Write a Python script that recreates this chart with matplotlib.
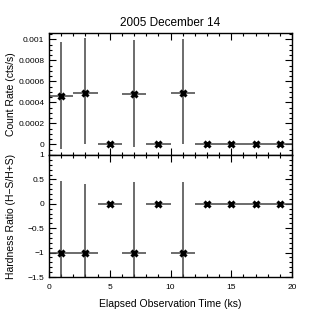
import matplotlib
matplotlib.use('Agg')
from matplotlib import pyplot as plt
from matplotlib.ticker import MultipleLocator, FuncFormatter

plt.rcParams['font.family'] = ['Liberation Sans', 'DejaVu Sans']
plt.rcParams['axes.unicode_minus'] = True

time = [1, 3, 5, 7, 9, 11, 13, 15, 17, 19]
time_err = [1, 1, 1, 1, 1, 1, 1, 1, 1, 1]

rate = [0.00046, 0.00049, 0, 0.00048, 0, 0.00049, 0, 0, 0, 0]
rate_lo = [0.00050, 0.00049, 0, 0.00050, 0, 0.00049, 0, 0, 0, 0]
rate_hi = [0.00051, 0.00052, 0, 0.00051, 0, 0.00051, 0, 0, 0, 0]

hr = [-1, -1, 0, -1, 0, -1, 0, 0, 0, 0]
hr_lo = [1.0, 1.0, 0, 1.0, 0, 1.0, 0, 0, 0, 0]
hr_hi = [1.47, 1.41, 0, 1.44, 0, 1.44, 0, 0, 0, 0]

fig = plt.figure(figsize=(3.26, 3.26), dpi=100)
ax1 = fig.add_axes([49 / 326, 1 - 155 / 326, 243 / 326, 122 / 326])
ax2 = fig.add_axes([49 / 326, 1 - 277 / 326, 243 / 326, 122 / 326], sharex=ax1)

err_style = dict(fmt='none', ecolor='#444444', elinewidth=1.1, capsize=0)
mk_style = dict(marker='x', color='black', markersize=5, markeredgewidth=2.2, linestyle='none')

ax1.errorbar(time, rate, xerr=time_err, yerr=[rate_lo, rate_hi], **err_style)
ax1.plot(time, rate, **mk_style)
ax2.errorbar(time, hr, xerr=time_err, yerr=[hr_lo, hr_hi], **err_style)
ax2.plot(time, hr, **mk_style)

ax1.set_xlim(0, 20)
ax1.set_ylim(-0.0001, 0.00106)
ax2.set_ylim(-1.5, 1)

ax1.yaxis.set_major_locator(MultipleLocator(0.0002))
ax1.yaxis.set_minor_locator(MultipleLocator(0.00005))
ax1.yaxis.set_major_formatter(FuncFormatter(lambda v, p: '0' if abs(v) < 1e-12 else ('%.4f' % v).rstrip('0')))
ax2.yaxis.set_major_locator(MultipleLocator(0.5))
ax2.yaxis.set_minor_locator(MultipleLocator(0.1))
ax2.yaxis.set_major_formatter(FuncFormatter(lambda v, p: ('%g' % v).replace('-', '\u2212')))
ax2.xaxis.set_major_locator(MultipleLocator(5))
ax2.xaxis.set_minor_locator(MultipleLocator(1))

for ax in (ax1, ax2):
    ax.tick_params(which='both', direction='in', top=True, right=True, labelsize=6, width=0.8)
    ax.tick_params(which='major', length=5)
    ax.tick_params(which='minor', length=2.5)
    for s in ax.spines.values():
        s.set_linewidth(1.0)
ax1.tick_params(labelbottom=False)
ax2.tick_params(axis='x', pad=5)

ax1.set_ylabel('Count Rate (cts/s)', fontsize=7.5)
ax2.set_ylabel('Hardness Ratio (H\u2212S/H+S)', fontsize=7.5)
ax2.set_xlabel('Elapsed Observation Time (ks)', fontsize=7.5, labelpad=6)
ax1.set_title('2005 December 14', fontsize=8.5, pad=5)
for ax in (ax1, ax2):
    ax.yaxis.set_label_coords(-33 / 243, 0.5)

fig.savefig('out.png', dpi=100)
